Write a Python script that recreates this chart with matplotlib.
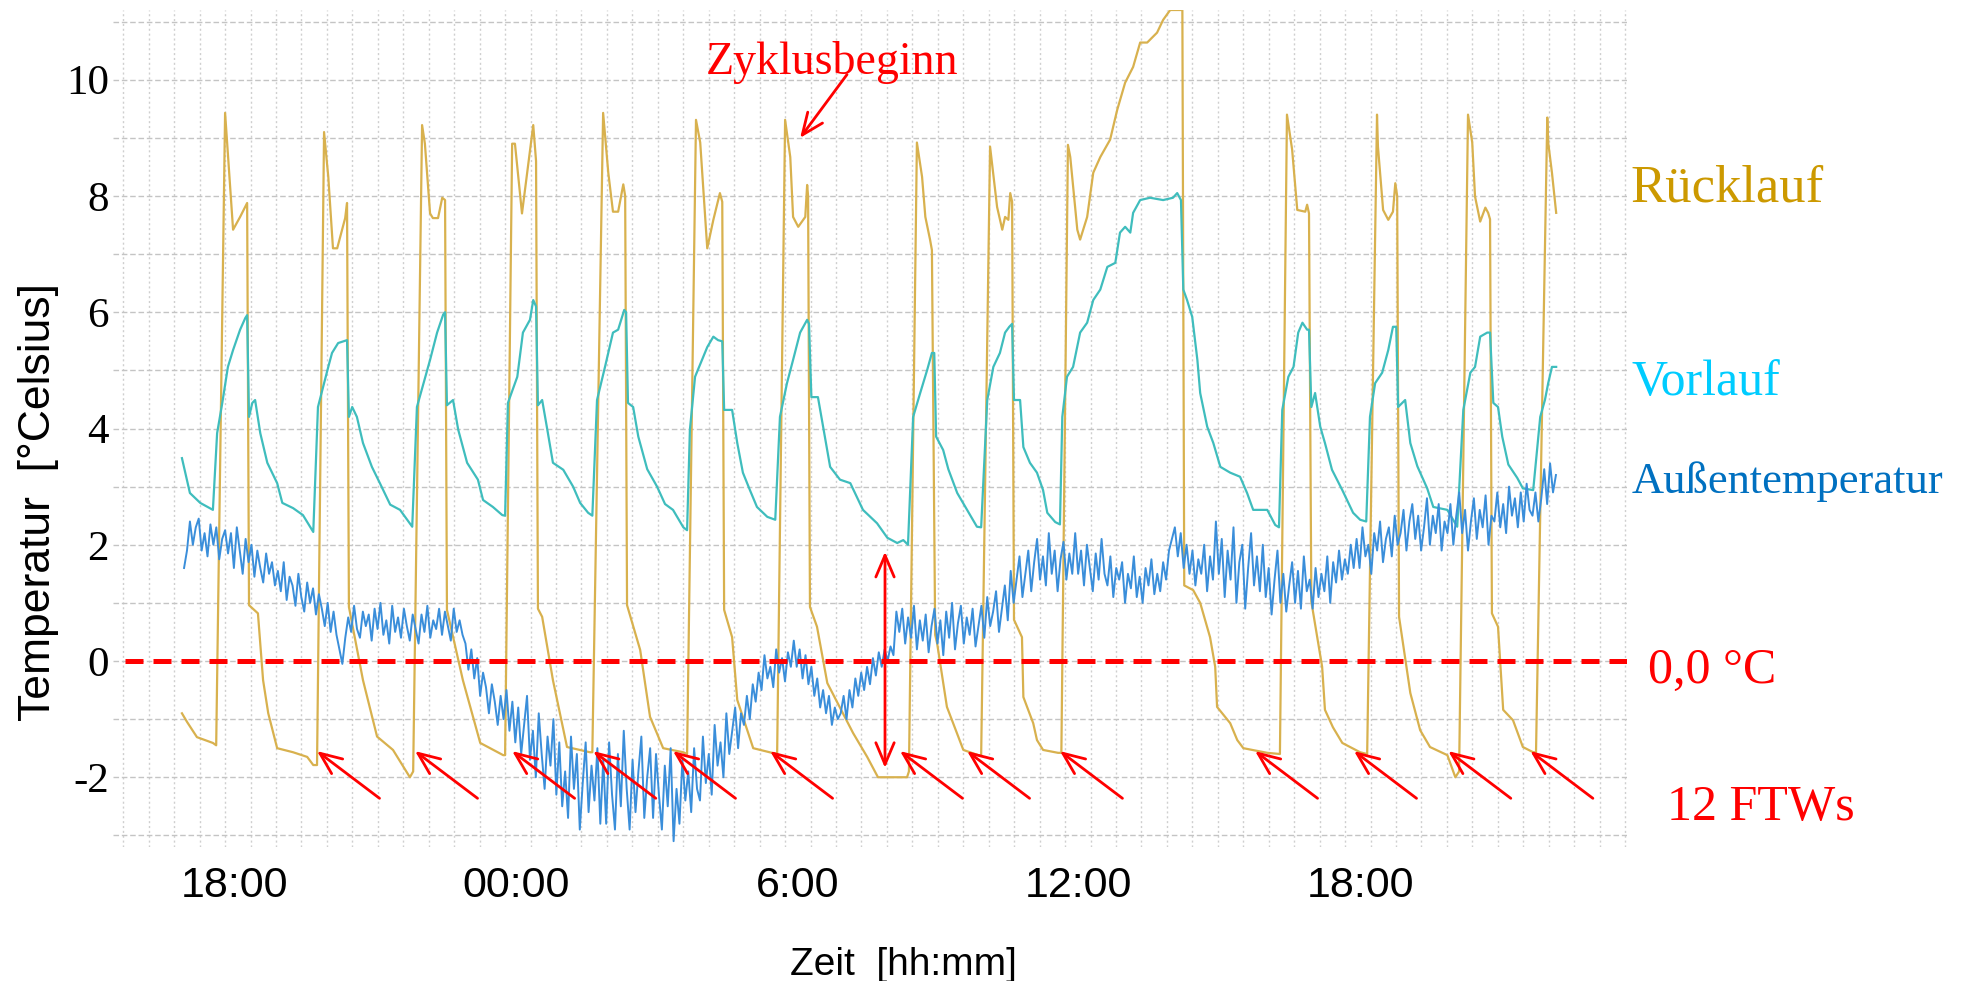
import numpy as np
import matplotlib
matplotlib.use("Agg")
import matplotlib.pyplot as plt
from matplotlib.ticker import MultipleLocator, FixedLocator

# ---------------- data (time in hours since 17:48 of day 1) ----------------
ruecklauf_t = [-0.92, -0.81, -0.60, -0.26, -0.19,
               0.00, 0.17, 0.32, 0.47, 0.51, 0.70, 0.81, 0.92, 1.11, 1.45, 1.75, 1.88, 1.96,
               2.11, 2.20, 2.30, 2.39, 2.56, 2.60, 2.64, 2.94, 3.24, 3.58, 3.94, 4.01,
               4.20, 4.26, 4.37, 4.43, 4.54, 4.63, 4.69, 4.73, 5.07, 5.44, 5.93, 5.97,
               6.12, 6.18, 6.33, 6.57, 6.63, 6.67, 6.76, 6.99, 7.29, 7.78, 7.83,
               8.06, 8.17, 8.27, 8.38, 8.49, 8.53, 8.57, 8.85, 9.06, 9.34, 9.77, 9.85,
               10.04, 10.13, 10.28, 10.41, 10.55, 10.60, 10.64, 10.81, 10.92, 11.26, 11.66, 11.77,
               11.94, 12.05, 12.11, 12.22, 12.37, 12.41, 12.43, 12.47, 12.62, 12.84, 13.39, 13.69, 13.92, 14.54, 14.58,
               14.75, 14.86, 14.93, 15.03, 15.07, 15.14, 15.18, 15.39, 15.74, 16.06, 16.12,
               16.31, 16.46, 16.57, 16.63, 16.70, 16.74, 16.78, 16.82, 16.99, 17.02, 17.23, 17.31, 17.44, 17.76, 17.83,
               17.97, 18.02, 18.17, 18.23, 18.38, 18.51, 18.66, 18.87, 19.02, 19.19, 19.36, 19.51, 19.66, 19.87,
               20.00, 20.15, 20.36, 20.41, 20.45, 20.64, 20.79, 21.00, 21.11, 21.15, 21.43, 21.58, 21.71, 22.22, 22.49,
               22.64, 22.75, 22.86, 23.03, 23.07, 23.11, 23.16, 23.39, 23.45, 23.62, 23.82, 24.20, 24.35,
               24.56, 24.58, 24.69, 24.80, 24.90, 24.95, 24.99, 25.03, 25.27, 25.48, 25.69, 26.06, 26.23, 26.31,
               26.50, 26.59, 26.65, 26.76, 26.87, 26.93, 26.97, 27.01, 27.14, 27.25, 27.46, 27.67, 27.89, 27.95,
               28.19, 28.21, 28.29, 28.38]
ruecklauf_v = [-0.90, -1.05, -1.31, -1.41, -1.45,
               9.43, 7.42, 7.64, 7.88, 0.96, 0.82, -0.33, -0.90, -1.50, -1.57, -1.65, -1.79, -1.79,
               9.10, 8.33, 7.10, 7.10, 7.62, 7.88, 0.93, -0.33, -1.30, -1.53, -2.00, -1.90,
               9.22, 8.90, 7.70, 7.62, 7.62, 7.97, 7.93, 0.88, -0.33, -1.41, -1.62, -1.62,
               8.90, 8.90, 7.70, 9.22, 8.60, 0.90, 0.76, -0.33, -1.48, -1.57, -1.57,
               9.43, 8.40, 7.73, 7.73, 8.20, 8.00, 0.96, 0.19, -0.96, -1.50, -1.57, -1.60,
               9.31, 8.92, 7.10, 7.59, 8.05, 7.90, 0.88, 0.41, -0.67, -1.50, -1.58, -1.60,
               9.31, 8.67, 7.64, 7.47, 7.64, 8.19, 8.00, 0.93, 0.59, -0.38, -1.24, -1.65, -2.00, -2.00, -1.90,
               8.92, 8.33, 7.64, 7.25, 7.07, 0.45, 0.31, -0.79, -1.53, -1.62, -1.62,
               8.85, 7.81, 7.42, 7.64, 7.59, 8.05, 7.90, 0.71, 0.41, -0.62, -1.07, -1.36, -1.53, -1.58, -1.58,
               8.88, 8.67, 7.42, 7.25, 7.64, 8.40, 8.67, 8.97, 9.48, 9.95, 10.22, 10.64, 10.64, 10.81,
               11.03, 11.20, 11.20, 11.20, 1.30, 1.22, 1.00, 0.41, -0.10, -0.79, -1.07, -1.36, -1.50, -1.58, -1.60,
               9.40, 8.80, 7.76, 7.73, 7.85, 7.70, 1.02, -0.10, -0.84, -1.14, -1.41, -1.57, -1.60,
               9.40, 8.85, 7.76, 7.59, 7.73, 8.22, 8.00, 0.76, -0.55, -1.19, -1.48, -1.62, -2.00, -1.90,
               9.40, 8.92, 7.99, 7.56, 7.80, 7.71, 7.60, 0.82, 0.59, -0.84, -1.02, -1.48, -1.57, -1.57,
               9.35, 8.92, 8.40, 7.71]

vorlauf_t = [-0.92, -0.75, -0.53, -0.26, -0.17, -0.06, 0.06, 0.17, 0.32, 0.43, 0.47, 0.51,
             0.58, 0.64, 0.75, 0.90, 1.11, 1.22, 1.45, 1.66, 1.88,
             1.98, 2.20, 2.28, 2.41, 2.60, 2.64, 2.71, 2.81, 2.94, 3.13, 3.30, 3.52, 3.73, 3.99,
             4.09, 4.37, 4.52, 4.65, 4.69, 4.73, 4.86, 4.97, 5.16, 5.39, 5.50, 5.71, 5.91, 5.97,
             6.03, 6.23, 6.35, 6.50, 6.57, 6.63, 6.67, 6.76, 6.87, 6.99, 7.21, 7.42, 7.57, 7.74, 7.83,
             7.93, 8.10, 8.27, 8.38, 8.51, 8.55, 8.59, 8.70, 8.81, 9.00, 9.21, 9.38, 9.55, 9.77, 9.85,
             9.91, 10.02, 10.28, 10.41, 10.51, 10.60, 10.64, 10.81, 10.92, 11.04, 11.19, 11.34, 11.56, 11.73,
             11.83, 11.98, 12.11, 12.26, 12.41, 12.45, 12.50, 12.64, 12.75, 12.90, 13.11, 13.33, 13.60, 13.90,
             14.12, 14.33, 14.46, 14.56,
             14.67, 14.82, 14.97, 15.07, 15.12, 15.16, 15.31, 15.42, 15.61, 15.82, 16.03, 16.12,
             16.25, 16.38, 16.52, 16.63, 16.72, 16.78, 16.82, 16.95, 17.02, 17.16, 17.31, 17.44, 17.53, 17.70, 17.80,
             17.85, 17.95, 18.08, 18.23, 18.38, 18.51, 18.66, 18.81, 18.98, 19.08, 19.19, 19.30, 19.36, 19.51,
             19.72, 20.00, 20.21, 20.30, 20.38, 20.43, 20.51, 20.62, 20.73, 20.79, 20.94, 21.07, 21.22, 21.43,
             21.64, 21.79, 21.92, 22.22, 22.39, 22.47,
             22.54, 22.67, 22.78, 22.88, 22.97, 23.07, 23.11, 23.16, 23.24, 23.35, 23.45, 23.60, 23.82, 24.05,
             24.20, 24.33,
             24.41, 24.52, 24.67, 24.80, 24.90, 24.97, 25.01, 25.16, 25.27, 25.42, 25.63, 25.76, 26.06, 26.27,
             26.40, 26.55, 26.65, 26.76, 26.91, 26.97, 27.04, 27.14, 27.23, 27.36, 27.55, 27.67, 27.89,
             28.04, 28.14, 28.21, 28.29, 28.38]
vorlauf_v = [3.49, 2.89, 2.72, 2.60, 3.92, 4.44, 5.06, 5.35, 5.70, 5.90, 5.95, 4.20,
             4.44, 4.49, 3.92, 3.41, 3.06, 2.72, 2.63, 2.51, 2.22,
             4.37, 5.06, 5.30, 5.47, 5.52, 4.20, 4.37, 4.20, 3.75, 3.34, 3.06, 2.69, 2.60, 2.31,
             4.37, 5.18, 5.65, 5.96, 6.00, 4.40, 4.49, 3.98, 3.41, 3.12, 2.77, 2.65, 2.51, 2.50,
             4.44, 4.89, 5.65, 5.87, 6.21, 6.10, 4.40, 4.49, 3.98, 3.41, 3.29, 3.00, 2.72, 2.55, 2.50,
             4.49, 5.06, 5.65, 5.70, 6.04, 6.00, 4.44, 4.37, 3.86, 3.30, 3.00, 2.70, 2.60, 2.30, 2.25,
             3.98, 4.89, 5.40, 5.58, 5.52, 5.50, 4.32, 4.32, 3.75, 3.24, 2.94, 2.65, 2.48, 2.43,
             4.20, 4.78, 5.18, 5.65, 5.87, 5.80, 4.54, 4.54, 4.03, 3.34, 3.12, 3.06, 2.60, 2.37,
             2.12, 2.03, 2.08, 2.00,
             4.20, 4.61, 5.01, 5.30, 5.30, 3.86, 3.63, 3.30, 2.89, 2.60, 2.31, 2.30,
             4.49, 5.06, 5.30, 5.65, 5.75, 5.80, 4.49, 4.49, 3.68, 3.41, 3.24, 2.94, 2.55, 2.39, 2.35,
             4.20, 4.89, 5.06, 5.65, 5.82, 6.21, 6.39, 6.78, 6.85, 7.37, 7.47, 7.37, 7.71, 7.93,
             7.97, 7.93, 7.97, 8.05, 7.93, 6.39, 6.21, 5.92, 5.18, 4.61, 4.03, 3.75, 3.34, 3.24,
             3.17, 2.89, 2.60, 2.60, 2.34, 2.30,
             4.32, 4.89, 5.06, 5.65, 5.82, 5.70, 5.70, 4.37, 4.61, 4.03, 3.75, 3.29, 2.94, 2.55,
             2.43, 2.40,
             4.20, 4.78, 4.96, 5.35, 5.75, 5.75, 4.37, 4.49, 3.75, 3.35, 2.97, 2.65, 2.60, 2.31,
             4.32, 4.96, 5.06, 5.58, 5.65, 5.65, 4.44, 4.37, 3.86, 3.38, 3.15, 2.97, 2.94,
             4.20, 4.49, 4.78, 5.06, 5.06]

# outdoor temperature, one reading every 3.75 min (16 per hour row)
aussen_start_h = -0.875
aussen_step_h = 0.0625
aussen_v = [1.6, 1.9, 2.4, 2.0, 2.3, 2.45, 1.9, 2.2, 1.8, 2.35, 2.0, 2.3, 1.75, 2.1, 2.25, 1.85,
            2.2, 1.6, 2.3, 1.9, 1.5, 2.1, 1.7, 2.0, 1.45, 1.9, 1.6, 1.35, 1.85, 1.5, 1.7, 1.3,
            1.55, 1.2, 1.7, 1.05, 1.45, 1.3, 0.95, 1.5, 1.1, 0.85, 1.35, 1.0, 1.25, 0.8, 1.15, 0.9,
            0.6, 1.0, 0.5, 0.85, 0.45, 0.2, -0.05, 0.4, 0.75, 0.5, 0.95, 0.55, 0.4, 0.85, 0.6, 0.8,
            0.35, 0.9, 0.55, 1.0, 0.45, 0.7, 0.3, 0.95, 0.5, 0.75, 0.4, 0.9, 0.6, 0.35, 0.8, 0.55,
            0.3, 0.8, 0.5, 0.95, 0.4, 0.7, 0.55, 0.9, 0.45, 0.85, 0.6, 0.35, 0.9, 0.5, 0.7, 0.45,
            0.3, -0.15, 0.2, -0.3, 0.05, -0.6, -0.2, -0.45, -0.9, -0.4, -0.7, -1.1, -0.6, -1.0, -0.5, -1.2,
            -0.7, -1.4, -0.8, -1.6, -1.1, -0.6, -1.7, -1.2, -2.0, -0.9, -1.6, -2.2, -1.3, -1.8, -1.0, -2.3,
            -1.4, -2.5, -1.9, -2.7, -1.3, -2.2, -1.6, -2.9, -2.1, -1.4, -2.6, -1.8, -2.4, -1.5, -2.8, -1.7,
            -2.8, -1.4, -2.3, -2.9, -1.6, -2.5, -1.2, -2.2, -2.9, -1.7, -2.6, -1.9, -1.3, -2.7, -2.0, -1.5,
            -2.7, -1.6, -2.3, -2.9, -1.8, -2.5, -1.5, -3.1, -2.2, -2.8, -1.7, -2.4, -1.9, -2.6, -1.5, -2.2,
            -2.4, -1.3, -2.1, -1.6, -2.3, -1.1, -1.8, -1.4, -2.0, -0.9, -1.6, -1.2, -0.8, -1.5, -0.9, -1.1,
            -0.6, -1.0, -0.4, -0.7, -0.2, -0.5, 0.1, -0.3, -0.1, -0.45, 0.2, -0.2, 0.05, -0.35, 0.15, -0.1,
            0.35, -0.1, 0.2, -0.3, 0.1, -0.4, -0.1, -0.6, -0.3, -0.8, -0.5, -0.9, -0.6, -1.1, -0.8, -1.0,
            -0.9, -0.6, -1.0, -0.5, -0.8, -0.3, -0.6, -0.2, -0.5, -0.1, -0.4, 0.05, -0.25, 0.15, -0.1, 0.2,
            0.0, 0.25, 0.1, 0.85, 0.5, 0.9, 0.3, 0.75, 0.4, 0.95, 0.2, 0.7, 0.35, 0.8, 0.15, 0.6,
            0.9, 0.3, 0.7, 0.1, 0.85, 0.4, 1.0, 0.2, 0.65, 0.95, 0.3, 0.75, 0.45, 0.9, 0.25, 0.6,
            0.95, 0.4, 1.1, 0.6, 0.85, 1.2, 0.5, 0.9, 1.3, 0.7, 1.55, 1.0, 1.4, 1.8, 1.1, 1.5,
            1.9, 1.2, 1.7, 2.1, 1.4, 1.8, 1.3, 2.2, 1.5, 1.9, 1.2, 1.75, 2.05, 1.4, 1.85, 1.5,
            2.2, 1.5, 1.9, 1.3, 2.0, 1.6, 1.2, 1.85, 1.4, 2.1, 1.5, 1.3, 1.8, 1.1, 1.6, 1.4,
            1.7, 1.0, 1.5, 1.25, 1.8, 1.1, 1.45, 1.0, 1.6, 1.3, 1.75, 1.15, 1.5, 1.2, 1.7, 1.4,
            1.9, 2.1, 2.3, 1.8, 2.2, 1.6, 2.0, 1.5, 1.9, 1.3, 1.75, 1.5, 2.0, 1.2, 1.8, 1.4,
            2.4, 1.5, 2.1, 1.1, 1.9, 1.4, 2.3, 1.0, 1.7, 2.0, 0.9, 1.6, 2.2, 1.3, 1.8, 1.2,
            2.0, 1.1, 1.6, 0.8, 1.4, 1.9, 1.0, 1.5, 0.85, 1.3, 1.7, 1.0, 1.55, 0.9, 1.8, 1.2,
            1.4, 0.9, 1.6, 1.1, 1.5, 1.2, 1.8, 1.0, 1.7, 1.35, 1.9, 1.4, 1.75, 1.5, 2.0, 1.6,
            2.1, 1.6, 2.3, 1.8, 2.0, 1.5, 2.2, 1.9, 2.4, 1.7, 2.1, 2.3, 1.8, 2.5, 2.0, 2.2,
            2.6, 1.9, 2.4, 2.7, 2.1, 2.5, 1.9, 2.3, 2.8, 2.0, 2.5, 2.2, 2.7, 1.9, 2.4, 2.2,
            2.7, 2.0, 2.5, 2.9, 2.2, 2.6, 1.9, 2.4, 2.8, 2.1, 2.6, 2.3, 2.85, 2.0, 2.5, 2.4,
            2.9, 2.3, 2.7, 2.2, 3.0, 2.5, 2.8, 2.3, 2.9, 2.4, 3.05, 2.6, 2.5, 2.9, 2.4, 2.8,
            3.3, 2.7, 3.4, 2.9, 3.2]
aussen_t = aussen_start_h + aussen_step_h * np.arange(len(aussen_v))

tick_pos_h = [0.2, 6.2, 12.2, 18.2, 24.2]
tick_labels = ["18:00", "00:00", "6:00", "12:00", "18:00"]
y_ticks = [-2, 0, 2, 4, 6, 8, 10]

ftw_times_h = [1.96, 4.05, 6.12, 7.85, 9.55, 11.62, 14.39, 15.82, 17.80, 21.96, 24.07, 26.08, 27.83]
ftw_level = -1.55
cycle_tip = (12.26, 9.0)
cycle_tail = (13.26, 10.09)
gap_time_h = 14.07
gap_top, gap_bottom = 1.88, -1.84

# ---------------- figure ----------------
W, H = 1971, 981
fig = plt.figure(figsize=(W / 100, H / 100), dpi=100)
ax = fig.add_axes([113 / W, 1 - 847 / H, 1514 / W, 837 / H])
ax.set_xlim(-2.39, 29.89)
ax.set_ylim(-3.2, 11.2)

for s in ax.spines.values():
    s.set_visible(False)

ax.yaxis.set_major_locator(FixedLocator(y_ticks))
ax.yaxis.set_minor_locator(MultipleLocator(1))
ax.xaxis.set_major_locator(FixedLocator(tick_pos_h))
ax.xaxis.set_minor_locator(MultipleLocator(0.5427))
ax.set_xticklabels(tick_labels)
ax.set_yticklabels([str(v) for v in y_ticks])
ax.tick_params(which="both", length=0)
ax.tick_params(axis="y", pad=3, labelsize=31)
ax.tick_params(axis="x", pad=14, labelsize=31)
for lab in ax.get_yticklabels():
    lab.set_fontfamily("Liberation Serif")
for lab in ax.get_xticklabels():
    lab.set_fontfamily("Liberation Sans")

ax.yaxis.grid(True, which="both", color="#c4c4c4", linestyle=(0, (4, 2)), linewidth=1.0)
ax.xaxis.grid(True, which="minor", color="#cfcfcf", linestyle=(0, (1.5, 2)), linewidth=1.0)
ax.xaxis.grid(False, which="major")
ax.set_axisbelow(True)

ax.plot(ruecklauf_t, ruecklauf_v, color="#D8B14E", lw=1.6, zorder=3)
ax.plot(vorlauf_t, vorlauf_v, color="#3FBDBD", lw=1.6, zorder=4)
ax.plot(aussen_t, aussen_v, color="#3A8EDA", lw=1.4, zorder=5)

# zero line
ax.axhline(0, xmin=12 / 1514, xmax=1.0, color="red", lw=3.6, dashes=(3.6, 2.0), zorder=6)

red = "#FF0000"
arrow_kw = dict(arrowstyle="->,head_length=1.3,head_width=0.55", color=red, lw=2.0,
                shrinkA=0, shrinkB=0, mutation_scale=12)
for t in ftw_times_h:
    ax.annotate("", xy=(t, ftw_level), xytext=(45, -34), textcoords="offset points",
                arrowprops=arrow_kw, zorder=7, annotation_clip=False)

ax.annotate("", xy=cycle_tip, xytext=cycle_tail, arrowprops=arrow_kw, zorder=7)
ax.annotate("", xy=(gap_time_h, gap_bottom), xytext=(gap_time_h, gap_top),
            arrowprops=dict(arrowstyle="<->,head_length=1.3,head_width=0.55", color=red, lw=2.0,
                            shrinkA=0, shrinkB=0, mutation_scale=12), zorder=7)

serif = "Liberation Serif"
sans = "Liberation Sans"
fig.text(832 / W, 1 - 74 / H, "Zyklusbeginn", color=red, fontsize=33, family=serif,
         ha="center", va="baseline")
fig.text(1630 / W, 1 - 202 / H, "Rücklauf", color="#CC9900", fontsize=38, family=serif,
         ha="left", va="baseline")
fig.text(1632 / W, 1 - 395 / H, "Vorlauf", color="#00CCFF", fontsize=36, family=serif,
         ha="left", va="baseline")
fig.text(1632 / W, 1 - 493 / H, "Außentemperatur", color="#0070C0", fontsize=32, family=serif,
         ha="left", va="baseline")
fig.text(1648 / W, 1 - 683 / H, "0,0 °C", color=red, fontsize=36, family=serif,
         ha="left", va="baseline")
fig.text(1667 / W, 1 - 820 / H, "12 FTWs", color=red, fontsize=36, family=serif,
         ha="left", va="baseline")

fig.text(39 / W, 1 - 502 / H, "Temperatur  [°Celsius]", rotation=90, fontsize=32, family=sans,
         ha="center", va="center")
fig.text(903 / W, 1 - 975 / H, "Zeit  [hh:mm]", fontsize=28, family=sans,
         ha="center", va="baseline")

fig.savefig("out.png", dpi=100, facecolor="white")
